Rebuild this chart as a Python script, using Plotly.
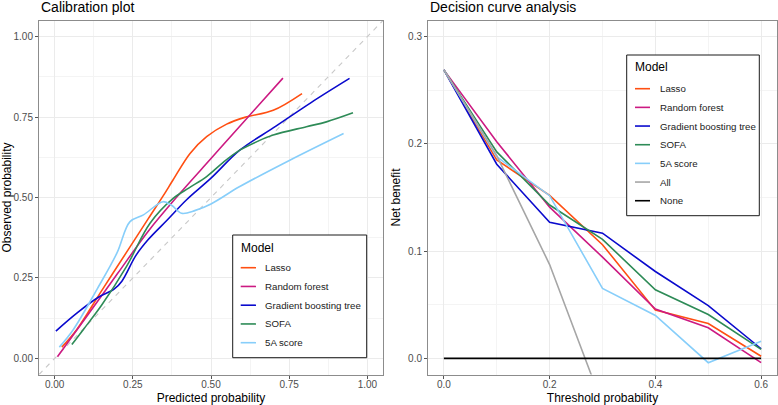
import plotly.graph_objects as go

# ---------------- Data: calibration plot ----------------
models = ["Lasso", "Random forest", "Gradient boosting tree", "SOFA", "5A score"]
colors = ["#FF4F12", "#CC1A82", "#0A0ACD", "#2E8B57", "#87CEFA"]

lasso_pred = [0.023, 0.071, 0.15, 0.24, 0.30, 0.347, 0.379, 0.433, 0.486, 0.55, 0.608, 0.699, 0.791]
lasso_obs = [0.035, 0.09, 0.21, 0.345, 0.435, 0.505, 0.555, 0.637, 0.689, 0.728, 0.749, 0.771, 0.823]

rf_pred = [0.009, 0.1, 0.2, 0.3, 0.4, 0.5, 0.6, 0.73]
rf_obs = [0.005, 0.127, 0.262, 0.396, 0.512, 0.621, 0.73, 0.871]

gbt_pred = [0.004, 0.07, 0.14, 0.19, 0.215, 0.26, 0.3, 0.36, 0.422, 0.5, 0.592, 0.7, 0.82, 0.943]
gbt_obs = [0.085, 0.14, 0.19, 0.215, 0.24, 0.32, 0.37, 0.43, 0.493, 0.56, 0.647, 0.717, 0.795, 0.870]

sofa_pred = [0.055, 0.092, 0.15, 0.23, 0.305, 0.379, 0.43, 0.486, 0.54, 0.592, 0.65, 0.699, 0.805, 0.869, 0.954]
sofa_obs = [0.043, 0.09, 0.165, 0.286, 0.42, 0.497, 0.53, 0.565, 0.61, 0.647, 0.675, 0.694, 0.72, 0.735, 0.763]

a5_pred = [0.015, 0.06, 0.135, 0.199, 0.241, 0.284, 0.347, 0.375, 0.406, 0.45, 0.5, 0.592, 0.752, 0.924]
a5_obs = [0.035, 0.09, 0.214, 0.327, 0.425, 0.446, 0.487, 0.475, 0.451, 0.46, 0.48, 0.534, 0.616, 0.699]

diag_x = [-0.05, 1.05]
diag_y = [-0.05, 1.05]

# ---------------- Data: decision curve analysis ----------------
thresholds = [0.0, 0.1, 0.2, 0.3, 0.4, 0.5, 0.6]
nb_lasso = [0.269, 0.185, 0.152, 0.106, 0.045, 0.0325, 0.002]
nb_rf = [0.269, 0.202, 0.141, 0.0944, 0.046, 0.0285, -0.004]
nb_gbt = [0.269, 0.181, 0.127, 0.1167, 0.081, 0.0492, 0.009]
nb_sofa = [0.269, 0.1925, 0.143, 0.111, 0.064, 0.0409, 0.0084]
nb_5a = [0.269, 0.188, 0.1517, 0.0652, 0.040, -0.004, 0.016]
all_thresholds = [0.0, 0.1, 0.2, 0.3]
nb_all = [0.269, 0.189, 0.0875, -0.043]
nb_none = [0, 0, 0, 0, 0, 0, 0]

dca_models = models + ["All", "None"]
dca_colors = colors + ["#A6A6A6", "#000000"]

cal_x = [lasso_pred, rf_pred, gbt_pred, sofa_pred, a5_pred]
cal_y = [lasso_obs, rf_obs, gbt_obs, sofa_obs, a5_obs]
dca_y = [nb_lasso, nb_rf, nb_gbt, nb_sofa, nb_5a, nb_all, nb_none]
dca_x = [thresholds] * 5 + [all_thresholds, thresholds]

cal_ticks = [0.0, 0.25, 0.5, 0.75, 1.0]
cal_ticktext = ["0.00", "0.25", "0.50", "0.75", "1.00"]
dca_xticks = [0.0, 0.2, 0.4, 0.6]
dca_xticktext = ["0.0", "0.2", "0.4", "0.6"]
dca_yticks = [0.0, 0.1, 0.2, 0.3]
dca_yticktext = ["0.0", "0.1", "0.2", "0.3"]

FONT = "Liberation Sans, Arial, sans-serif"
W, H = 778, 405


def fx(p):
    return p / W


def fy(p):
    return 1 - p / H


fig = go.Figure()

fig.add_trace(go.Scatter(x=diag_x, y=diag_y, mode="lines",
                         line=dict(color="#C8C8C8", width=1.1, dash="5px,5px"),
                         showlegend=False, hoverinfo="skip",
                         xaxis="x", yaxis="y"))

for name, col, xs, ys in zip(models, colors, cal_x, cal_y):
    fig.add_trace(go.Scatter(x=xs, y=ys, mode="lines", name=name,
                             line=dict(color=col, width=1.6, shape="spline", smoothing=1.0),
                             showlegend=False, xaxis="x", yaxis="y"))

for name, col, xs, ys in zip(dca_models, dca_colors, dca_x, dca_y):
    fig.add_trace(go.Scatter(x=xs, y=ys, mode="lines", name=name,
                             line=dict(color=col, width=1.6),
                             showlegend=False, xaxis="x2", yaxis="y2"))

axis_common = dict(
    showline=True, mirror=True, linecolor="#8C8C8C", linewidth=1,
    ticks="outside", ticklen=3, tickwidth=1, tickcolor="#555555",
    tickfont=dict(family=FONT, size=10, color="#4D4D4D"),
    showgrid=True, gridcolor="#EBEBEB", gridwidth=1,
    zeroline=False,
    title_font=dict(family=FONT, size=12, color="#000000"),
)

shapes = []
annotations = [
    dict(text="Calibration plot", x=fx(39), y=fy(7), xref="paper", yref="paper",
         xanchor="left", yanchor="middle", showarrow=False,
         font=dict(family=FONT, size=14, color="#000000")),
    dict(text="Decision curve analysis", x=fx(428), y=fy(7), xref="paper", yref="paper",
         xanchor="left", yanchor="middle", showarrow=False,
         font=dict(family=FONT, size=14, color="#000000")),
]


def add_legend(names, cols, box, title_pos, key_x0, key_x1, text_x, y0, dy):
    bx0, by0, bx1, by1 = box
    shapes.append(dict(type="rect", xref="paper", yref="paper",
                       x0=fx(bx0), x1=fx(bx1), y0=fy(by1), y1=fy(by0),
                       line=dict(color="#1A1A1A", width=1), fillcolor="white", layer="above"))
    annotations.append(dict(text="Model", x=fx(title_pos[0]), y=fy(title_pos[1]),
                            xref="paper", yref="paper", xanchor="left", yanchor="middle",
                            showarrow=False, font=dict(family=FONT, size=12, color="#000000")))
    for i, (n, c) in enumerate(zip(names, cols)):
        yy = y0 + i * dy
        shapes.append(dict(type="line", xref="paper", yref="paper",
                           x0=fx(key_x0), x1=fx(key_x1), y0=fy(yy), y1=fy(yy),
                           line=dict(color=c, width=1.6), layer="above"))
        annotations.append(dict(text=n, x=fx(text_x), y=fy(yy), xref="paper", yref="paper",
                                xanchor="left", yanchor="middle", showarrow=False,
                                font=dict(family=FONT, size=9.7, color="#1A1A1A")))


add_legend(models, colors, (232.7, 235, 366.7, 357.7), (239.3, 247.5),
           240.7, 256, 263.3, 267.7, 18.75)
add_legend(dca_models, dca_colors, (626.7, 55, 759.3, 215.7), (632.7, 67.5),
           635, 650, 657.7, 88.7, 18.67)

fig.update_layout(
    width=W, height=H,
    margin=dict(l=0, r=0, t=0, b=0),
    paper_bgcolor="white", plot_bgcolor="white",
    font=dict(family=FONT),
    showlegend=False,
    xaxis=dict(domain=[fx(39), fx(383)], range=[-0.05, 1.05],
               tickvals=cal_ticks, ticktext=cal_ticktext, ticklabelstandoff=-3,
               title=dict(text="Predicted probability", standoff=7),
               minor=dict(showgrid=True, gridcolor="#F4F4F4", gridwidth=0.6, dtick=0.125, tick0=0.125),
               anchor="y", **axis_common),
    yaxis=dict(domain=[fy(374.5), fy(20.5)], range=[-0.05, 1.05],
               tickvals=cal_ticks, ticktext=cal_ticktext,
               title=dict(text="Observed probability", standoff=4),
               minor=dict(showgrid=True, gridcolor="#F4F4F4", gridwidth=0.6, dtick=0.125, tick0=0.125),
               anchor="x", **axis_common),
    xaxis2=dict(domain=[fx(428), fx(777)], range=[-0.03, 0.63],
                tickvals=dca_xticks, ticktext=dca_xticktext, ticklabelstandoff=-3,
                title=dict(text="Threshold probability", standoff=7),
                minor=dict(showgrid=True, gridcolor="#F4F4F4", gridwidth=0.6, dtick=0.1, tick0=0.1),
                anchor="y2", **axis_common),
    yaxis2=dict(domain=[fy(374.5), fy(20.5)], range=[-0.015, 0.315],
                tickvals=dca_yticks, ticktext=dca_yticktext,
                title=dict(text="Net benefit", standoff=4),
                minor=dict(showgrid=True, gridcolor="#F4F4F4", gridwidth=0.6, dtick=0.05, tick0=0.05),
                anchor="x2", **axis_common),
    shapes=shapes,
    annotations=annotations,
)

fig.write_html("out.html", config={"displayModeBar": False},
               post_script="document.body.style.margin='0px';")
